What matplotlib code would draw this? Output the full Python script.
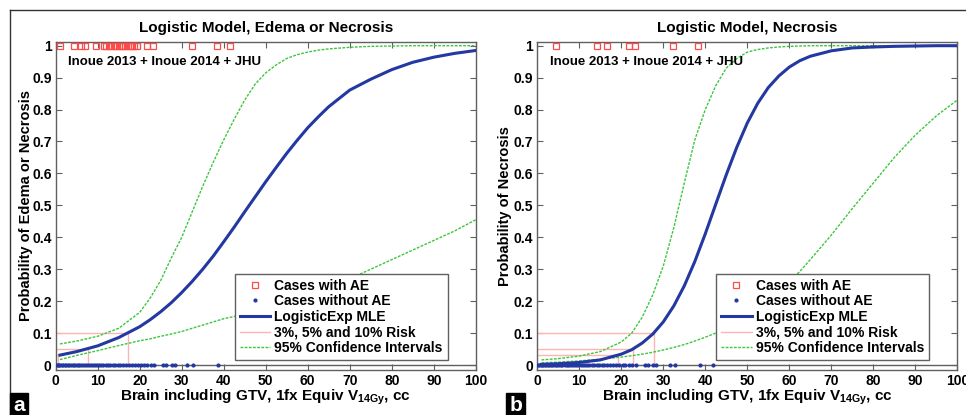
import matplotlib
matplotlib.use("Agg")
import matplotlib.pyplot as plt
from matplotlib.lines import Line2D

plt.rcParams['font.family'] = ['Liberation Sans', 'DejaVu Sans']
plt.rcParams['font.weight'] = 'bold'
plt.rcParams['mathtext.fontset'] = 'custom'
plt.rcParams['mathtext.rm'] = 'Liberation Sans:bold'
plt.rcParams['mathtext.default'] = 'rm'

vol = [1, 5, 10, 15, 20, 22.5, 25, 27.5, 30, 32.5, 35, 37.5, 40, 42.5, 45,
       47.5, 50, 52.5, 55, 57.5, 60, 62.5, 65, 70, 75, 80, 85, 90, 95, 100]

# panel a: edema or necrosis
a_mle = [0.031, 0.042, 0.060, 0.086, 0.120, 0.142, 0.167, 0.195, 0.227, 0.262,
         0.300, 0.341, 0.386, 0.432, 0.480, 0.527, 0.574, 0.619, 0.663, 0.704,
         0.743, 0.777, 0.809, 0.861, 0.895, 0.925, 0.948, 0.964, 0.976, 0.985]
a_upper = [0.066, 0.075, 0.090, 0.115, 0.165, 0.210, 0.265, 0.335, 0.400, 0.480,
           0.560, 0.635, 0.705, 0.770, 0.830, 0.880, 0.915, 0.940, 0.960, 0.972,
           0.980, 0.986, 0.990, 0.995, 0.998, 0.999, 1.0, 1.0, 1.0, 1.0]
a_lower = [0.017, 0.030, 0.045, 0.061, 0.076, 0.082, 0.090, 0.097, 0.105, 0.115,
           0.125, 0.135, 0.145, 0.152, 0.160, 0.170, 0.180, 0.190, 0.200, 0.210,
           0.220, 0.232, 0.245, 0.270, 0.300, 0.330, 0.360, 0.390, 0.420, 0.455]
a_cases_ae = [1.1, 4.3, 6.1, 7.0, 9.6, 11.4, 12.0, 12.6, 13.2, 13.8, 14.4, 15.0,
              15.6, 16.1, 16.6, 17.1, 17.6, 18.1, 18.6, 19.3, 21.7, 23.2, 32.4,
              38.4, 41.5]
a_cases_no = [0.2, 0.5, 0.8, 1.1, 1.4, 1.8, 2.1, 2.5, 2.9, 3.2, 3.6, 4.0, 4.4,
              4.8, 5.2, 5.6, 6.0, 6.5, 7.0, 7.4, 7.9, 8.3, 8.8, 9.3, 9.8, 10.3,
              10.8, 11.3, 11.9, 12.4, 13.0, 13.6, 14.2, 14.8, 15.4, 16.0, 16.7,
              17.4, 18.1, 18.8, 19.5, 20.3, 21.0, 21.8, 22.6, 23.5, 25.6, 26.2,
              27.7, 28.3, 31.2, 32.7, 38.7]
a_risk_x = [0.5, 7.6, 17.3]

# panel b: necrosis
b_mle = [0.002, 0.004, 0.008, 0.016, 0.034, 0.048, 0.069, 0.097, 0.135, 0.185,
         0.248, 0.324, 0.411, 0.504, 0.596, 0.682, 0.758, 0.820, 0.869, 0.905,
         0.933, 0.953, 0.967, 0.984, 0.993, 0.996, 0.998, 0.999, 1.0, 1.0]
b_upper = [0.016, 0.020, 0.028, 0.042, 0.072, 0.100, 0.150, 0.220, 0.310, 0.430,
           0.570, 0.705, 0.800, 0.875, 0.930, 0.960, 0.980, 0.988, 0.993, 0.996,
           0.998, 0.999, 1.0, 1.0, 1.0, 1.0, 1.0, 1.0, 1.0, 1.0]
b_lower = [0.007, 0.009, 0.013, 0.018, 0.025, 0.029, 0.034, 0.040, 0.047, 0.055,
           0.064, 0.075, 0.087, 0.100, 0.117, 0.135, 0.155, 0.176, 0.200, 0.230,
           0.260, 0.293, 0.330, 0.407, 0.490, 0.570, 0.650, 0.720, 0.780, 0.830]
b_cases_ae = [4.5, 14.2, 16.6, 21.8, 23.2, 32.2, 38.3]
b_cases_no = [0.2, 0.5, 0.8, 1.1, 1.4, 1.8, 2.1, 2.5, 2.9, 3.2, 3.6, 4.0, 4.4,
              4.8, 5.2, 5.6, 6.0, 6.5, 7.0, 7.4, 7.9, 8.3, 8.8, 9.3, 9.8, 10.3,
              10.8, 11.3, 11.9, 12.4, 13.0, 13.6, 14.2, 14.8, 15.4, 16.0, 16.7,
              17.4, 18.1, 18.8, 19.5, 20.3, 21.0, 21.8, 22.6, 23.5, 25.7, 26.4,
              27.6, 28.3, 31.5, 32.8, 38.8, 41.8]
b_risk_x = [19.3, 22.9, 27.8]

risk_levels = [0.03, 0.05, 0.10]

panels = [
    ("Logistic Model, Edema or Necrosis", "Probability of Edema or Necrosis",
     a_mle, a_upper, a_lower, a_cases_ae, a_cases_no, a_risk_x, "a"),
    ("Logistic Model, Necrosis", "Probability of Necrosis",
     b_mle, b_upper, b_lower, b_cases_ae, b_cases_no, b_risk_x, "b"),
]

blue = '#2338a0'
green = '#3cc63c'
pink = '#ffb3b3'
red = '#ff4a4a'
gray = '#606060'

fig = plt.figure(figsize=(9.66, 4.15), dpi=100)
lefts = [0.0577, 0.5562]
label_x = [0.0135, 0.527]
ylab_x = [-0.053, -0.060]

for i, (title, ylab, mle, up, lo, ae, no, rx, tag) in enumerate(panels):
    ax = fig.add_axes([lefts[i], 0.1084, 0.4348, 0.7911])
    ax.plot(ae, [1] * len(ae), 's', mfc='none', mec=red, ms=4, mew=0.9,
            label='Cases with AE', zorder=4)
    ax.plot(no, [0] * len(no), '.', color=blue, ms=4, label='Cases without AE',
            zorder=4)
    ax.axhline(0, color=gray, lw=1, zorder=1)
    ax.plot(vol, mle, color=blue, lw=2.2, label='LogisticExp MLE', zorder=3)
    for k, (lev, xv) in enumerate(zip(risk_levels, rx)):
        lab = '3%, 5% and 10% Risk' if k == 0 else None
        ax.plot([0, xv], [lev, lev], color=pink, lw=1, label=lab, zorder=2)
        ax.plot([xv, xv], [0, lev], color=pink, lw=1, zorder=2)
    ax.plot(vol, up, color=green, lw=1, ls=(0, (2, 1)),
            label='95% Confidence Intervals', zorder=2)
    ax.plot(vol, lo, color=green, lw=1, ls=(0, (2, 1)), zorder=2)

    ax.set_xlim(0, 100)
    ax.set_ylim(-0.0157, 1.0125)
    ax.set_xticks(range(0, 101, 10))
    ax.set_yticks([k / 10 for k in range(11)])
    ax.set_yticklabels(['%g' % (k / 10) for k in range(11)])
    ax.tick_params(direction='in', top=True, right=True, length=4,
                   labelsize=10, color=gray, pad=3)
    for s in ax.spines.values():
        s.set_color(gray)
        s.set_linewidth(1)
    ax.set_title(title, fontsize=11, fontweight='bold', pad=7)
    ax.set_xlabel(r'Brain including GTV, 1fx Equiv V$_{14Gy}$, cc',
                  fontsize=11, fontweight='bold', labelpad=0)
    ax.set_ylabel(ylab, fontsize=10.5, fontweight='bold')
    ax.yaxis.set_label_coords(ylab_x[i], 0.5)
    ax.text(3.0, 0.949, 'Inoue 2013 + Inoue 2014 + JHU', fontsize=9.5,
            fontweight='bold', va='center')
    leg = ax.legend(loc='lower right', bbox_to_anchor=(0.933, 0.03),
                    borderaxespad=0, fontsize=10, handlelength=2.2,
                    labelspacing=0.12, handletextpad=0.3, borderpad=0.35,
                    fancybox=False, framealpha=1)
    leg.get_frame().set_edgecolor(gray)
    leg.get_frame().set_linewidth(1)

    fig.text(label_x[i], 0.0, tag, color='white', fontsize=15, ha='left',
             va='bottom', bbox=dict(boxstyle='square,pad=0.15', fc='black',
                                    ec='black'))

# thin frame on top and left of the figure
fig.add_artist(Line2D([0.0104, 1.0], [0.976, 0.976], color='#333333', lw=1))
fig.add_artist(Line2D([0.0104, 0.0104], [0.0, 0.976], color='#333333', lw=1))

fig.savefig('out.png', dpi=100)
